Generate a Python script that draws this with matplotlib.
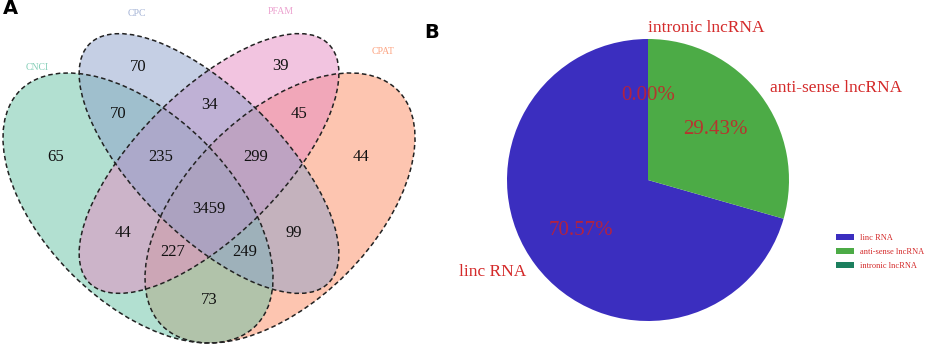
import matplotlib
matplotlib.use("Agg")
import matplotlib.pyplot as plt
from matplotlib.patches import Ellipse

# ---- data -----------------------------------------------------------------
set_names = ["CNCI", "CPC", "PFAM", "CPAT"]
set_colors = ["#66C2A5", "#8DA0CB", "#E78AC3", "#FC8D62"]

# region membership (CNCI, CPC, PFAM, CPAT) -> count
region_keys = ["1000", "0100", "0010", "0001",
               "1100", "0011", "0110", "1110", "0111", "1111",
               "1010", "0101", "1011", "1101", "1001"]
region_counts = [65, 70, 39, 44,
                 70, 45, 34, 235, 299, 3459,
                 44, 99, 227, 249, 73]

pie_labels = ["linc RNA", "anti-sense lncRNA", "intronic lncRNA"]
pie_values = [70.57, 29.43, 0.0]
pie_colors = ["#3B2EBF", "#4CAB46", "#1C7F5E"]

# ---- layout (pixel-like coordinates of the venn panel, y down) -------------
# centre, semi-axes, angle for each set ellipse
ell_centers = [(138, 208), (209, 163.5), (209, 163.5), (280, 208)]
ell_axes = [(166.5, 93.5), (169, 72), (169, 72), (166.5, 93.5)]
ell_angles = [45, 45, -45, -45]
draw_order = [3, 0, 2, 1]          # CPAT, CNCI, PFAM, CPC
name_pos = [(37, 67), (137, 13), (281, 11), (383, 52)]
count_pos = {
    "1000": (56, 157), "0100": (138, 67), "0010": (280, 66), "0001": (361, 157),
    "1100": (118, 114), "0011": (299, 114), "0110": (209, 105),
    "1110": (161, 157), "0111": (256, 157), "1111": (209, 209),
    "1010": (123, 233), "0101": (294, 233), "1011": (173, 252),
    "1101": (245, 252), "1001": (209, 300),
}

W, H = 935, 355
fig = plt.figure(figsize=(W / 100, H / 100), dpi=100)
serif = ["Liberation Serif", "DejaVu Serif"]

# ---- A: venn ----------------------------------------------------------------
ax = fig.add_axes([0, 0, 450 / W, 1])
ax.set_xlim(0, 450)
ax.set_ylim(355, 0)
ax.axis("off")

for i in draw_order:
    a, b = ell_axes[i]
    ax.add_patch(Ellipse(ell_centers[i], 2 * a, 2 * b, angle=ell_angles[i],
                         facecolor=set_colors[i], alpha=0.5, edgecolor="none"))
for i in draw_order:
    a, b = ell_axes[i]
    ax.add_patch(Ellipse(ell_centers[i], 2 * a, 2 * b, angle=ell_angles[i],
                         facecolor="none", edgecolor="#222222", lw=1.1,
                         linestyle=(0, (3, 2))))

for name, (x, y), col in zip(set_names, name_pos, set_colors):
    ax.text(x, y, name, color=col, alpha=0.8, fontsize=7, family=serif,
            ha="center", va="center")

for key, n in zip(region_keys, region_counts):
    x, y = count_pos[key]
    ax.text(x, y, str(n), fontsize=12, family=serif, color="#111111",
            ha="center", va="center")

fig.text(10 / W, 1 - 9 / H, "A", fontsize=14, fontweight="bold",
         ha="center", va="center")
fig.text(432 / W, 1 - 33 / H, "B", fontsize=14, fontweight="bold",
         ha="center", va="center")

# ---- B: pie -----------------------------------------------------------------
r_px = 141
side = 2.5 * r_px
pax = fig.add_axes([(648 - side / 2) / W, (H - 180 - side / 2) / H,
                    side / W, side / H])
wedges, texts, autotexts = pax.pie(
    pie_values, labels=pie_labels, colors=pie_colors, startangle=90,
    autopct="%.2f%%", pctdistance=0.6, labeldistance=1.08,
    textprops=dict(family=serif))
pax.set_xlim(-1.25, 1.25)
pax.set_ylim(-1.25, 1.25)
pax.set_aspect("auto")

for t in texts:
    t.set_color("#D42A2A")
    t.set_fontsize(12.5)
texts[2].set_ha("left")
for t in autotexts:
    t.set_color("#C8202A")
    t.set_alpha(0.85)
    t.set_fontsize(15)

fig.legend(wedges, pie_labels, loc="upper left",
           bbox_to_anchor=(828 / W, 1 - 226 / H), frameon=False,
           prop=dict(family=serif, size=6), labelcolor="#D42A2A",
           handlelength=2.2, handleheight=0.7, labelspacing=0.75)

fig.savefig("out.png", dpi=100)
